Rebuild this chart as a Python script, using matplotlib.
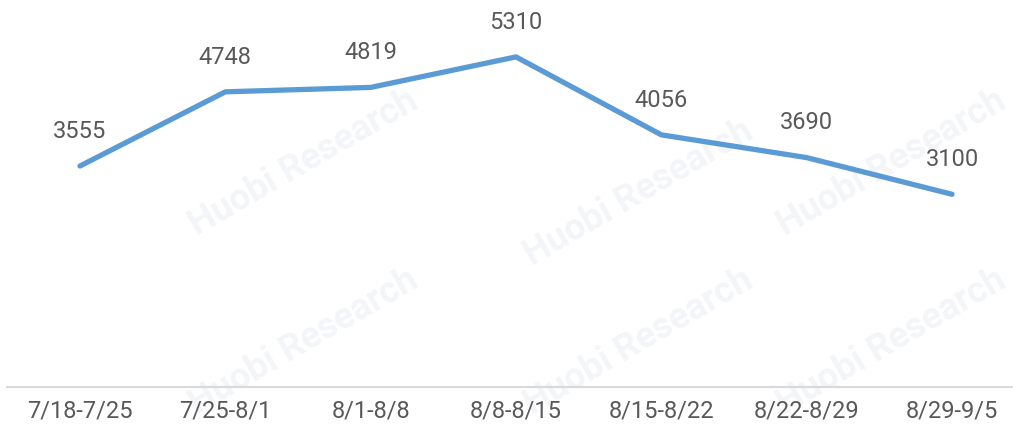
import matplotlib.pyplot as plt

weeks = ['7/18-7/25', '7/25-8/1', '8/1-8/8', '8/8-8/15', '8/15-8/22', '8/22-8/29', '8/29-9/5']
values = [3555, 4748, 4819, 5310, 4056, 3690, 3100]

plt.rcParams['font.family'] = ['Roboto', 'DejaVu Sans']

fig = plt.figure(figsize=(10.13, 4.28), dpi=100)
ax = fig.add_axes([7.3 / 1013, 41 / 428, 1017.4 / 1013, 373 / 428])
ax.patch.set_visible(False)

x = list(range(len(weeks)))
ax.plot(x, values, color='#5B9BD5', linewidth=3.8, solid_capstyle='round', zorder=3)

for xi, v in zip(x, values):
    ax.annotate(str(v), (xi, v), xytext=(0, 25), textcoords='offset points',
                ha='center', va='center', fontsize=17, color='#595959')

ax.set_xlim(-0.5, 6.5)
ax.set_ylim(0, 6000)
ax.set_xticks(x)
ax.set_xticklabels(weeks, fontsize=17, color='#595959')
ax.tick_params(axis='x', length=0, pad=9)
ax.set_yticks([])
for s in ['top', 'right', 'left']:
    ax.spines[s].set_visible(False)
ax.spines['bottom'].set_color('#D9D9D9')
ax.spines['bottom'].set_linewidth(1.5)

# faint watermark, behind the chart
for wx, wy in [(0.3, 0.62), (0.63, 0.55), (0.88, 0.62),
               (0.3, 0.2), (0.63, 0.2), (0.88, 0.2)]:
    fig.text(wx, wy, 'Huobi Research', rotation=30, fontsize=26, fontweight='bold',
             color='#F3F5F8', ha='center', va='center', zorder=-1)

fig.savefig('out.png', dpi=100)
